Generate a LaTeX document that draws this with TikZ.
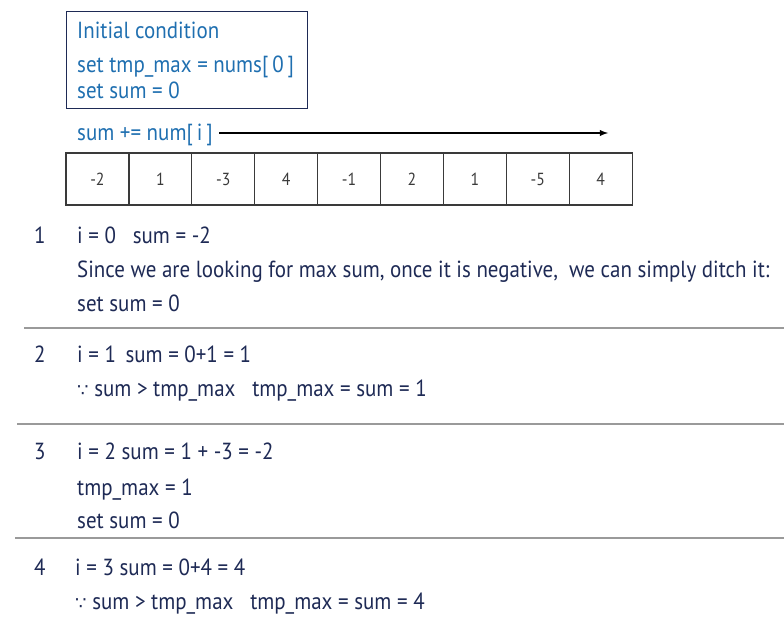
\documentclass[tikz,border=0pt]{standalone}
\usepackage{fontspec}
\setmainfont{PT Sans}[FakeStretch=0.9]
\newfontfamily\symfont{DejaVu Sans}
\definecolor{navy}{HTML}{1E2A55}
\definecolor{lblue}{HTML}{1F6FB0}
\definecolor{cellgray}{HTML}{3A3A3A}
\definecolor{rulegray}{HTML}{9A9A9A}
\newcommand{\bec}{{\symfont\fontsize{18}{20}\selectfont ∵}}
\begin{document}
\begin{tikzpicture}[x=1pt,y=-1pt,
  txt/.style={anchor=base west,inner sep=0pt,text=navy,font=\fontsize{23.3}{25}\selectfont},
  btxt/.style={anchor=base west,inner sep=0pt,text=lblue,font=\fontsize{23.3}{25}\selectfont},
  cell/.style={draw=cellgray,line width=1.2pt,minimum width=62.9pt,minimum height=52pt,inner sep=0pt,text=cellgray,font=\fontsize{17.5}{19}\selectfont},
  sep/.style={draw=rulegray,line width=2pt}]
\useasboundingbox (0,0) rectangle (784,623);
\node[draw=navy,line width=1pt,minimum width=241pt,minimum height=97pt,inner sep=0pt] (box) at (186.5,60.5) {};
\node[btxt] (t1) at (77,39) {Initial condition};
\node[btxt] (t2) at (77,72.5) {set tmp\_max = nums[\,0\,]};
\node[btxt] (t3) at (77,98.5) {set sum = 0};
\node[btxt] (acc) at (77,140.5) {sum += num[\,i\,]};
\coordinate (astart) at (219,133);
\coordinate (aend) at (608,133);
\draw[line width=1.8pt,-latex] (astart) -- (aend);
\foreach \v [count=\i] in {-2,1,-3,4,-1,2,1,-5,4}{
  \node[cell] (c\i) at ({66+62.9*(\i-0.5)},179) {\v};
}
\node[txt] (n1) at (34,243.5) {1};
\node[txt] (r1a) at (77,243.5) {i = 0 \ \ sum = -2};
\node[txt] (r1b) at (77,277.5) {Since we are looking for max sum, once it is negative, \ we can simply ditch it:};
\node[txt] (r1c) at (77,311.5) {set sum = 0};
\coordinate (l1a) at (24,328); \coordinate (l1b) at (784,328);
\draw[sep] (l1a) -- (l1b);
\node[txt] (n2) at (34,362.5) {2};
\node[txt] (r2a) at (77,362.5) {i = 1 \,sum = 0+1 = 1};
\node[txt] (r2b) at (77,396.5) {\bec{} sum > tmp\_max \ \ tmp\_max = sum = 1};
\coordinate (l2a) at (17,424); \coordinate (l2b) at (784,424);
\draw[sep] (l2a) -- (l2b);
\node[txt] (n3) at (34,459.5) {3};
\node[txt] (r3a) at (77,459.5) {i = 2 sum = 1 + -3 = -2};
\node[txt] (r3b) at (77,495.5) {tmp\_max = 1};
\node[txt] (r3c) at (77,528.5) {set sum = 0};
\coordinate (l3a) at (15,538); \coordinate (l3b) at (784,538);
\draw[sep] (l3a) -- (l3b);
\node[txt] (n4) at (34,575.5) {4};
\node[txt] (r4a) at (75,575.5) {i = 3 sum = 0+4 = 4};
\node[txt] (r4b) at (75,609.5) {\bec{} sum > tmp\_max \ \ tmp\_max = sum = 4};
\end{tikzpicture}
\end{document}
